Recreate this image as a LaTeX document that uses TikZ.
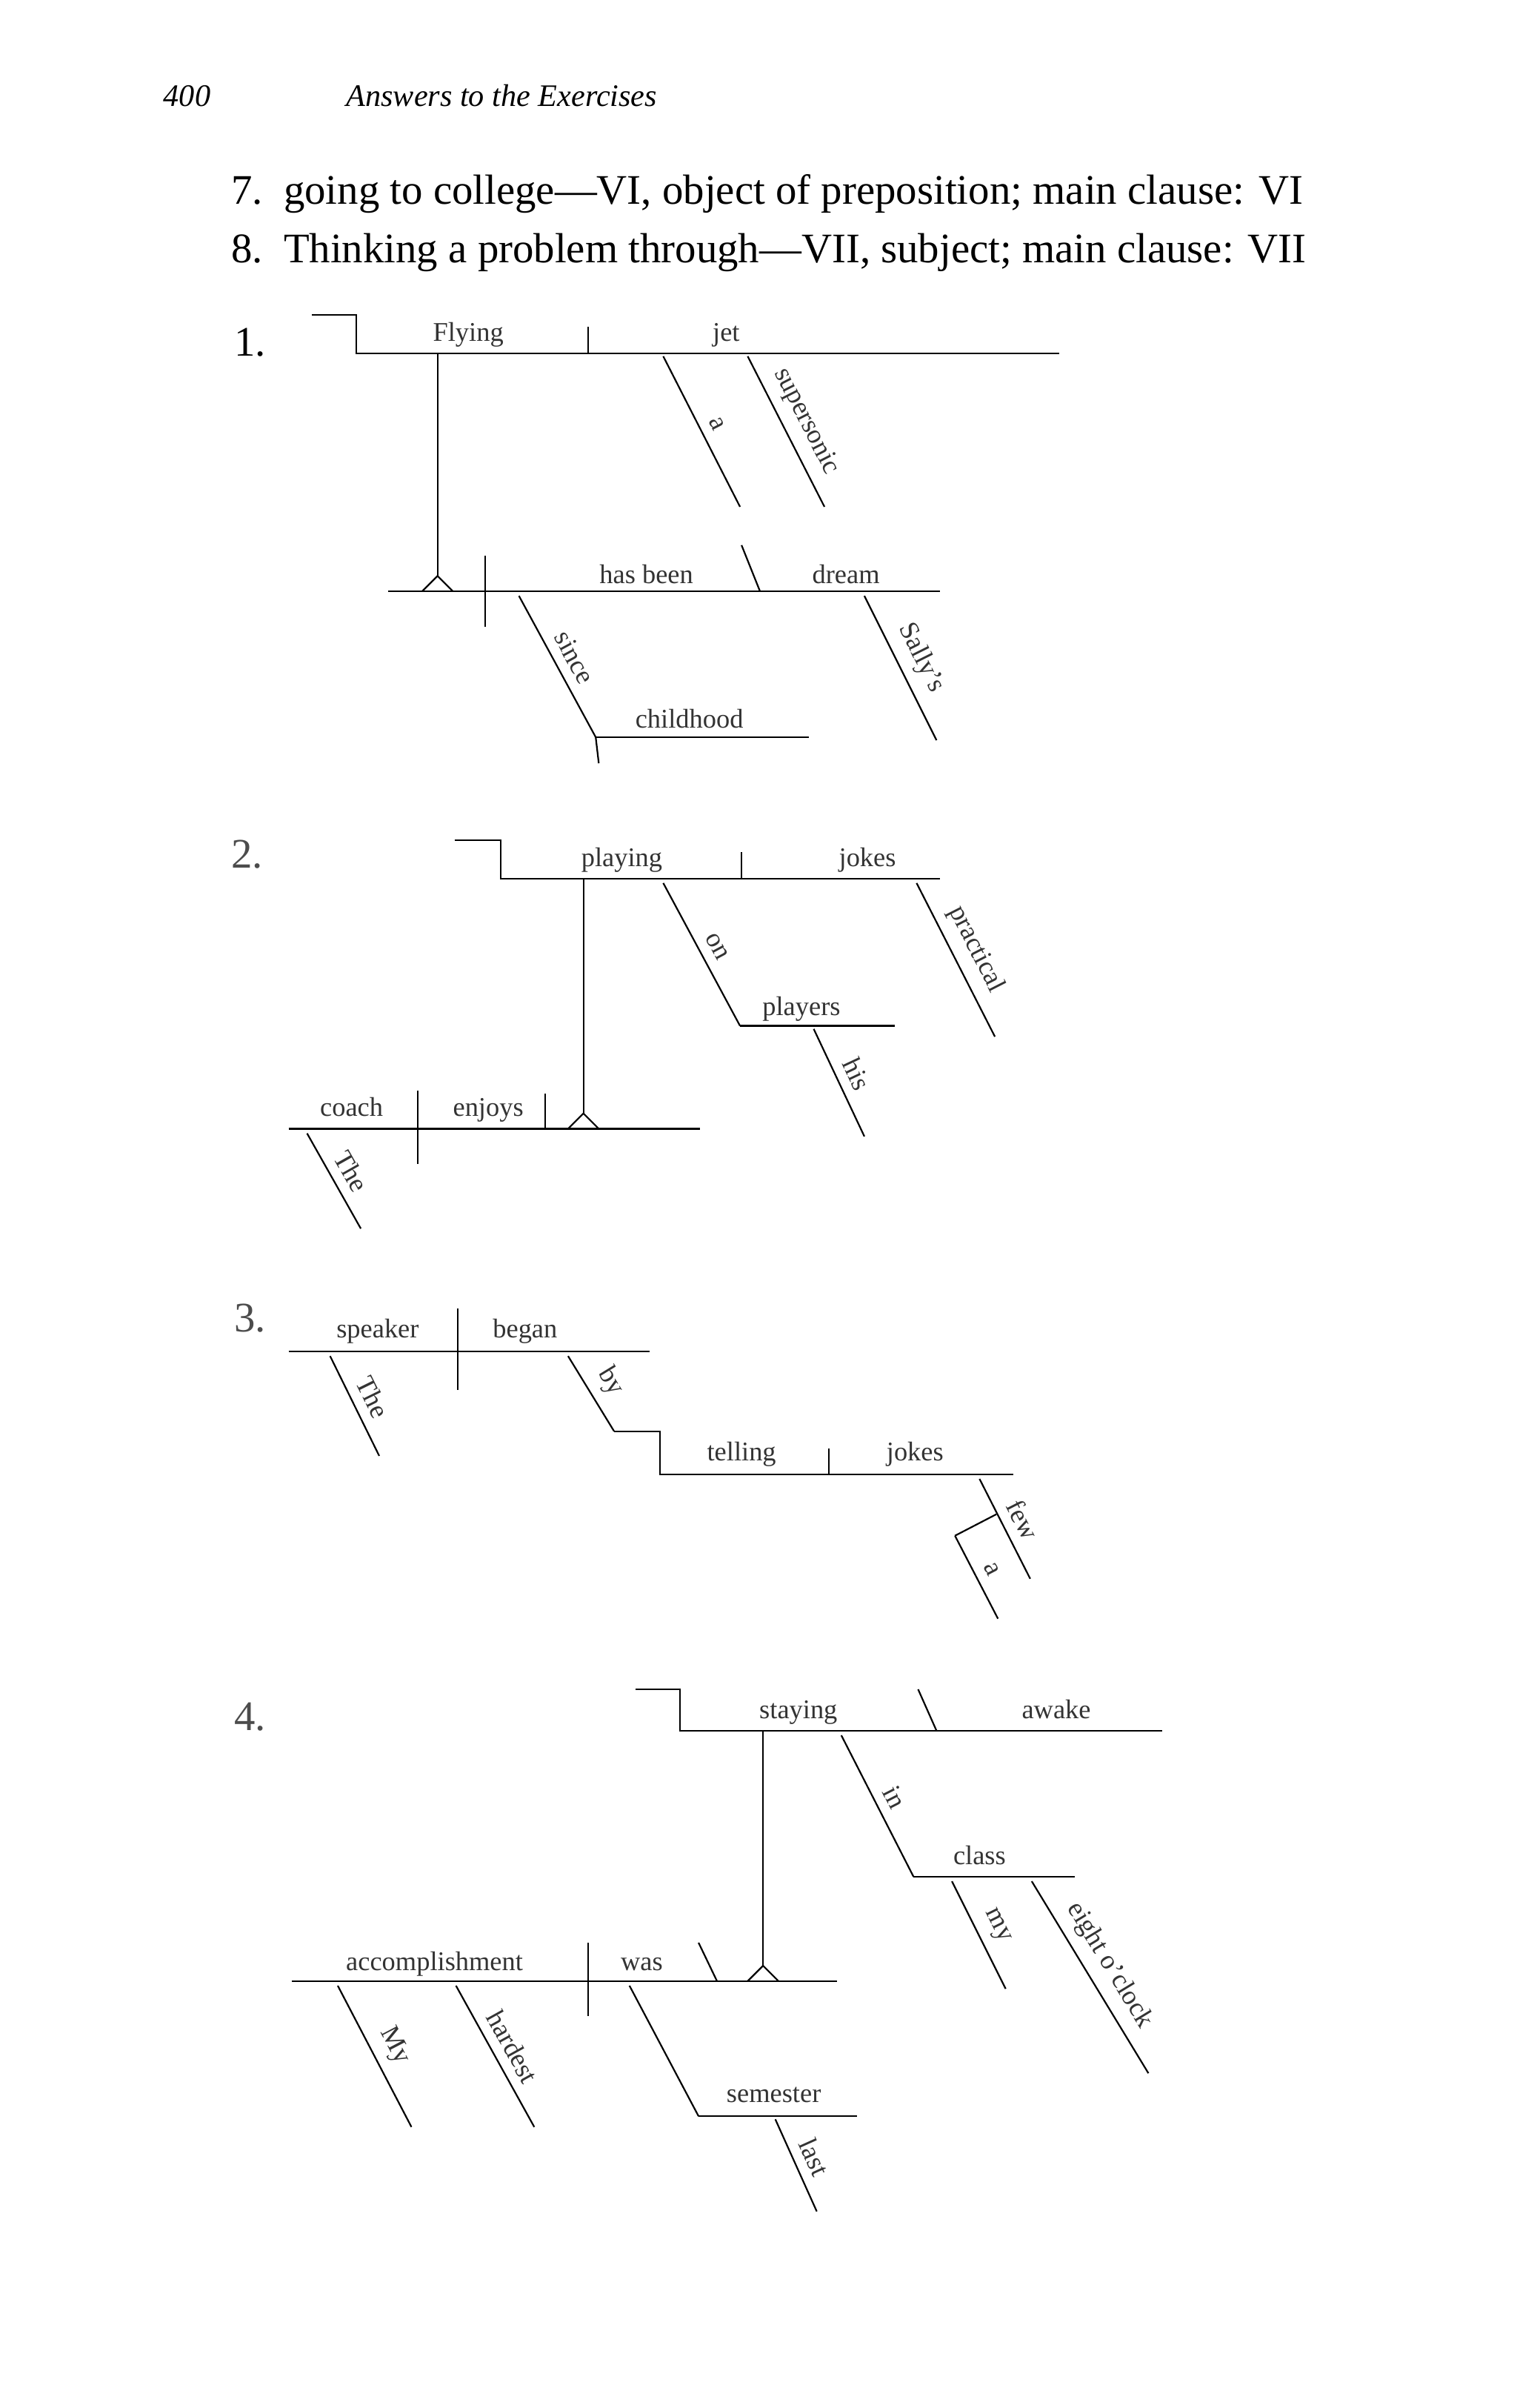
\documentclass[tikz,border=0pt]{standalone}
\usepackage{fontspec}
\setmainfont{Liberation Serif}
\begin{document}
\begin{tikzpicture}[x=0.1cm,y=-0.1cm,line width=3pt,
  lbl/.style={font=\fontsize{50}{56}\selectfont,text=black!80,inner sep=6pt},
  slbl/.style={lbl,midway,sloped,above=12pt},
  big/.style={font=\fontsize{78}{86}\selectfont,anchor=base west,inner sep=0},
  hdr/.style={font=\fontsize{58}{64}\selectfont\itshape,anchor=base west,inner sep=0}]
\useasboundingbox (0,0) rectangle (988,1568);
\node[hdr] (pg) at (106,69) {400};
\node[hdr] (ttl) at (225,69) {Answers to the Exercises};
\node[big] (l7) at (150,133) {7.\ \ going to college---VI, object of preposition; main clause: VI};
\node[big] (l8) at (150,171) {8.\ \ Thinking a problem through---VII, subject; main clause: VII};
% ---------- 1
\node[big] (n1) at (152,232) {1.};
\draw (203,205) -- (232,205) -- (232,230) -- (690,230);
\draw (383,213) -- (383,230);
\node[lbl,anchor=base] (a1) at (305,222) {Flying};
\node[lbl,anchor=base] (a2) at (473,222) {jet};
\draw (432,232) -- (482,330) node[slbl]{a};
\draw (487,232) -- (537,330) node[slbl]{supersonic};
\draw (285,230) -- (285,375);
\draw (275,385) -- (285,375) -- (295,385);
\draw (253,385) -- (612,385);
\draw (316,362) -- (316,408);
\node[lbl,anchor=base] (a3) at (421,380) {has been};
\draw (483,355) -- (495,385);
\node[lbl,anchor=base] (a4) at (551,380) {dream};
\draw (563,388) -- (610,482) node[slbl]{Sally's};
\draw (338,388) -- (388,480) node[slbl]{since};
\draw (388,480) -- (390,497);
\draw (388,480) -- (527,480);
\node[lbl,anchor=base] (a5) at (449,474) {childhood};
% ---------- 2
\node[big,text=black!70] (n2) at (150,565) {2.};
\draw (296,547) -- (326,547) -- (326,572) -- (612,572);
\node[lbl,anchor=base] (b1) at (405,564) {playing};
\draw (483,555) -- (483,572);
\node[lbl,anchor=base] (b2) at (565,564) {jokes};
\draw (597,575) -- (648,675) node[slbl]{practical};
\draw (432,575) -- (482,668) node[slbl]{on};
\draw (482,668) -- (583,668);
\node[lbl,anchor=base] (b3) at (522,661) {players};
\draw (530,670) -- (563,740) node[slbl]{his};
\draw (380,572) -- (380,725);
\draw (370,735) -- (380,725) -- (390,735);
\draw (188,735) -- (456,735);
\node[lbl,anchor=base] (b4) at (229,727) {coach};
\draw (272,710) -- (272,758);
\node[lbl,anchor=base] (b5) at (318,727) {enjoys};
\draw (355,712) -- (355,735);
\draw (200,738) -- (235,800) node[slbl]{The};
% ---------- 3
\node[big,text=black!70] (n3) at (152,867) {3.};
\draw (188,880) -- (423,880);
\node[lbl,anchor=base] (c1) at (246,871) {speaker};
\draw (298,852) -- (298,905);
\node[lbl,anchor=base] (c2) at (342,871) {began};
\draw (215,883) -- (247,948) node[slbl]{The};
\draw (370,883) -- (400,932) node[slbl]{by};
\draw (400,932) -- (430,932) -- (430,960) -- (660,960);
\node[lbl,anchor=base] (c3) at (483,951) {telling};
\draw (540,943) -- (540,960);
\node[lbl,anchor=base] (c4) at (596,951) {jokes};
\draw (638,963) -- (671,1028) node[slbl]{few};
\draw (649,986) -- (622,1000);
\draw (622,1000) -- (650,1054) node[slbl]{a};
% ---------- 4
\node[big,text=black!70] (n4) at (152,1127) {4.};
\draw (414,1100) -- (443,1100) -- (443,1127) -- (757,1127);
\node[lbl,anchor=base] (d1) at (520,1119) {staying};
\draw (598,1100) -- (610,1127);
\node[lbl,anchor=base] (d2) at (688,1119) {awake};
\draw (548,1130) -- (595,1222) node[slbl]{in};
\draw (595,1222) -- (700,1222);
\node[lbl,anchor=base] (d3) at (638,1214) {class};
\draw (620,1225) -- (655,1295) node[slbl]{my};
\draw (672,1225) -- (748,1350) node[slbl]{eight o'clock};
\draw (497,1127) -- (497,1280);
\draw (487,1290) -- (497,1280) -- (507,1290);
\draw (190,1290) -- (545,1290);
\node[lbl,anchor=base] (d4) at (283,1283) {accomplishment};
\draw (383,1265) -- (383,1313);
\node[lbl,anchor=base] (d5) at (418,1283) {was};
\draw (455,1265) -- (467,1290);
\draw (220,1293) -- (268,1385) node[slbl]{My};
\draw (297,1293) -- (348,1385) node[slbl]{hardest};
\draw (410,1293) -- (455,1378);
\draw (455,1378) -- (558,1378);
\node[lbl,anchor=base] (d6) at (504,1369) {semester};
\draw (505,1380) -- (532,1440) node[slbl]{last};
\end{tikzpicture}
\end{document}
